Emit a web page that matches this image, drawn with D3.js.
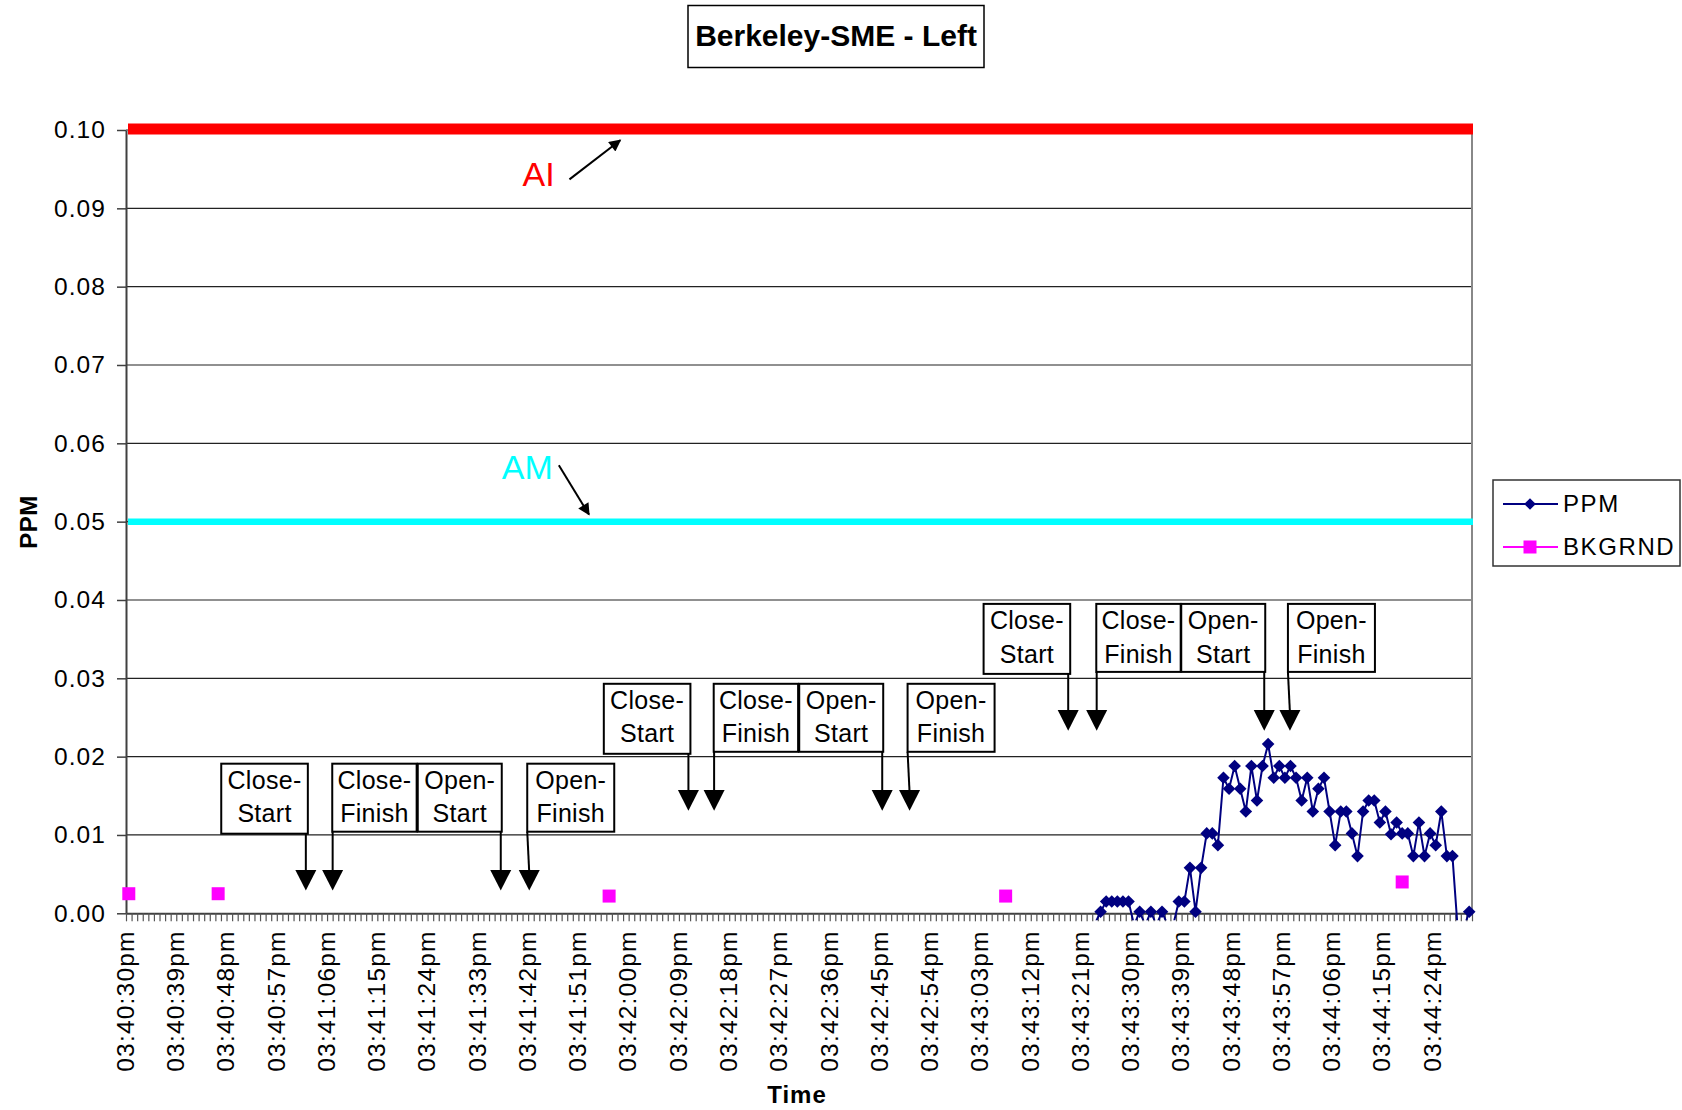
<!DOCTYPE html>
<html><head><meta charset="utf-8">
<script src="https://cdn.jsdelivr.net/npm/d3@7"></script>
<style>
body{margin:0;background:#fff}
svg{display:block}
text{font-family:"Liberation Sans",Arial,sans-serif;fill:#000}
</style>
</head><body>
<svg id="c" width="1682" height="1110"></svg>
<script>
// ---------------- DATA ----------------
const chartTitle = "Berkeley-SME - Left";
const yTitle = "PPM";
const xTitle = "Time";
const nCats = 241;                 // one category per second, 03:40:30pm .. 03:44:30pm
const tickEvery = 9;
const tickLabels = ["03:40:30pm","03:40:39pm","03:40:48pm","03:40:57pm","03:41:06pm","03:41:15pm",
  "03:41:24pm","03:41:33pm","03:41:42pm","03:41:51pm","03:42:00pm","03:42:09pm","03:42:18pm",
  "03:42:27pm","03:42:36pm","03:42:45pm","03:42:54pm","03:43:03pm","03:43:12pm","03:43:21pm",
  "03:43:30pm","03:43:39pm","03:43:48pm","03:43:57pm","03:44:06pm","03:44:15pm","03:44:24pm"];
const yTicks = [0,0.01,0.02,0.03,0.04,0.05,0.06,0.07,0.08,0.09,0.10];

// PPM series: first category index and values (negatives fall below the axis and are clipped)
const ppmFirstIndex = 173;
const ppmValues = [
  -0.0013, 0.0002, 0.0015, 0.0015, 0.0015, 0.0015, 0.0015, -0.0015, 0.0002, -0.0015,
  0.0002, -0.0015, 0.0002, -0.0015, -0.0015, 0.0015, 0.0015, 0.0058, 0.0002, 0.0058,
  0.0102, 0.0102, 0.0087, 0.0173, 0.0159, 0.0188, 0.0159, 0.0130, 0.0188, 0.0144,
  0.0188, 0.0216, 0.0173, 0.0188, 0.0173, 0.0188, 0.0173, 0.0144, 0.0173, 0.0130,
  0.0159, 0.0173, 0.0130, 0.0087, 0.0130, 0.0130, 0.0102, 0.0073, 0.0130, 0.0144,
  0.0144, 0.0116, 0.0130, 0.0101, 0.0116, 0.0102, 0.0102, 0.0073, 0.0116, 0.0073,
  0.0102, 0.0087, 0.0130, 0.0073, 0.0073, -0.0026, -0.0020, 0.0002];

// BKGRND series
const bkgrndIndex  = [0, 16, 86, 157, 228];
const bkgrndValues = [0.0025, 0.0025, 0.0022, 0.0022, 0.0040];

// Reference limits
const refNames  = ["AI", "AM"];
const refValues = [0.10, 0.05];
const refColors = ["#FF0000", "#00FFFF"];

// Event annotations (category index of each arrow, box top / arrow tip in PPM)
const eventLabels = [["Close-","Start"],["Close-","Finish"],["Open-","Start"],["Open-","Finish"]];
const eventTimes = [[31.7, 36.5, 66.6, 71.7],[100.2, 104.8, 134.9, 139.8],[168.2, 173.3, 203.3, 207.9]];
const eventBoxTop   = [0.0191, 0.0293, 0.0395];
const eventArrowTip = [0.0029, 0.0131, 0.0233];

// Limit label annotations (category index, PPM)
const refLabelPos  = [[70.5, 0.0929],[66.8, 0.0555]];
const refArrowFrom = [[78.9, 0.0937],[77.0, 0.0572]];
const refArrowTo   = [[88.0, 0.0987],[82.4, 0.0509]];

// ---------------- CHART ----------------
const W = 1682, H = 1110;
const plot = {left:126, right:1472, top:130, bottom:913.3};
const svg = d3.select("#c");
svg.append("rect").attr("width", W).attr("height", H).attr("fill", "#fff");

const xi = d3.scaleLinear().domain([-0.5, nCats - 0.5]).range([plot.left, plot.right]);
const y = d3.scaleLinear().domain([0, 0.10]).range([plot.bottom, plot.top]);

const defs = svg.append("defs");
defs.append("clipPath").attr("id","clip").append("rect")
  .attr("x", plot.left).attr("y", plot.top - 12)
  .attr("width", plot.right - plot.left + 8).attr("height", plot.bottom - plot.top + 19);
defs.append("marker").attr("id","ah").attr("viewBox","0 0 10 10").attr("refX",9).attr("refY",5)
  .attr("markerWidth",7).attr("markerHeight",6).attr("markerUnits","strokeWidth").attr("orient","auto")
  .append("path").attr("d","M0,0 L10,5 L0,10 Z").attr("fill","#000");

// gridlines
svg.append("g").selectAll("line").data(yTicks.filter(v => v > 0)).join("line")
  .attr("x1", plot.left).attr("x2", plot.right)
  .attr("y1", d => y(d)).attr("y2", d => y(d))
  .attr("stroke", "#222").attr("stroke-width", 1.2);

// right border
svg.append("line").attr("x1", plot.right).attr("x2", plot.right).attr("y1", plot.top).attr("y2", plot.bottom)
  .attr("stroke", "#888").attr("stroke-width", 2);

// reference lines
svg.append("g").selectAll("line").data(refValues).join("line")
  .attr("x1", plot.left + 2).attr("x2", plot.right + 1)
  .attr("y1", (d,i) => y(d) - (i === 0 ? 1 : 0)).attr("y2", (d,i) => y(d) - (i === 0 ? 1 : 0))
  .attr("stroke", (d,i) => refColors[i]).attr("stroke-width", (d,i) => i === 0 ? 11 : 6.5);

// y axis
const yAxis = svg.append("g").attr("transform", `translate(${plot.left},0)`)
  .call(d3.axisLeft(y).tickValues(yTicks).tickFormat(d3.format(".2f")).tickSize(9).tickSizeOuter(0).tickPadding(11));
yAxis.select(".domain").attr("stroke", "#404040").attr("stroke-width", 2);
yAxis.selectAll(".tick line").attr("stroke", "#404040").attr("stroke-width", 1.5);
yAxis.selectAll(".tick text").attr("font-size", 24.5).attr("letter-spacing", "1.1px")
  .attr("font-family", '"Liberation Sans",Arial,sans-serif').attr("fill", "#000");

// x axis (category ticks between categories)
const xAxis = svg.append("g").attr("transform", `translate(0,${plot.bottom})`)
  .call(d3.axisBottom(xi).tickValues(d3.range(-0.5, nCats, 1)).tickSize(8).tickSizeOuter(0).tickFormat(""));
xAxis.select(".domain").attr("stroke", "#404040").attr("stroke-width", 2);
xAxis.selectAll(".tick line").attr("stroke", "#555").attr("stroke-width", 1.2);

// x tick labels
svg.append("g").selectAll("text").data(tickLabels).join("text")
  .attr("transform", (d,i) => `translate(${xi(i * tickEvery) + 5},${plot.bottom + 17}) rotate(-90)`)
  .attr("text-anchor", "end").attr("font-size", 24.5).attr("letter-spacing", "1.2px")
  .text(d => d);

// axis titles
svg.append("text").attr("transform", `translate(36.5,522) rotate(-90)`).attr("text-anchor","middle")
  .attr("font-size", 24).attr("font-weight","bold").attr("letter-spacing","0.5px").text(yTitle);
svg.append("text").attr("x", 797).attr("y", 1103).attr("text-anchor","middle")
  .attr("font-size", 24).attr("font-weight","bold").attr("letter-spacing","1px").text(xTitle);

// PPM series
const ppm = ppmValues.map((v,k) => ({i: ppmFirstIndex + k, v}));
const plotG = svg.append("g").attr("clip-path", "url(#clip)");
plotG.append("path").datum(ppm)
  .attr("d", d3.line().x(d => xi(d.i)).y(d => y(d.v)))
  .attr("fill","none").attr("stroke","#000080").attr("stroke-width",2);
const diamond = "M0,-6.3L6.3,0L0,6.3L-6.3,0Z";
svg.append("g").selectAll("path").data(ppm.filter(d => d.v >= 0)).join("path")
  .attr("transform", d => `translate(${xi(d.i)},${y(d.v)})`).attr("d", diamond).attr("fill","#000080");

// BKGRND series
svg.append("g").selectAll("rect").data(bkgrndIndex).join("rect")
  .attr("x", (d) => xi(d) - 6.5).attr("y", (d,k) => y(bkgrndValues[k]) - 6.5)
  .attr("width", 13).attr("height", 13).attr("fill", "#FF00FF");

// reference labels + arrows
refNames.forEach((n,i) => {
  svg.append("text").attr("x", xi(refLabelPos[i][0])).attr("y", y(refLabelPos[i][1]))
    .attr("font-size", 34).style("fill", refColors[i]).text(n);
  svg.append("line")
    .attr("x1", xi(refArrowFrom[i][0])).attr("y1", y(refArrowFrom[i][1]))
    .attr("x2", xi(refArrowTo[i][0])).attr("y2", y(refArrowTo[i][1]))
    .attr("stroke","#000").attr("stroke-width",2).attr("marker-end","url(#ah)");
});

// event boxes + arrows
const boxW = [86.6, 84.4, 84, 87];
eventTimes.forEach((grp, g) => {
  const top = y(eventBoxTop[g]), tip = y(eventArrowTip[g]);
  grp.forEach((t, e) => {
    const ax = xi(t);
    const h = e === 0 ? 70 : 68;
    let left;
    if (e === 0) left = ax + 2 - boxW[0];
    else if (e === 1) left = ax - 0.4;
    else if (e === 2) left = ax + 1 - boxW[2];
    else left = ax - 2;
    const topX = e === 3 ? left : ax;
    const G = svg.append("g");
    G.append("line").attr("x1", topX).attr("y1", top + h).attr("x2", ax).attr("y2", tip - 18)
      .attr("stroke","#000").attr("stroke-width",2);
    G.append("path").attr("d", `M${ax-10.5},${tip-20.7}L${ax+10.5},${tip-20.7}L${ax},${tip}Z`).attr("fill","#000");
    G.append("rect").attr("x", left).attr("y", top).attr("width", boxW[e]).attr("height", h)
      .attr("fill","#fff").attr("stroke","#000").attr("stroke-width",2);
    const cx = left + boxW[e] / 2;
    G.append("text").attr("x", cx).attr("y", top + 25.5).attr("text-anchor","middle")
      .attr("font-size", 25).attr("letter-spacing","0.3px").text(eventLabels[e][0]);
    G.append("text").attr("x", cx).attr("y", top + 58.7).attr("text-anchor","middle")
      .attr("font-size", 25).attr("letter-spacing","0.3px").text(eventLabels[e][1]);
  });
});

// legend
const lg = svg.append("g");
lg.append("rect").attr("x",1493).attr("y",480).attr("width",187).attr("height",86)
  .attr("fill","#fff").attr("stroke","#333").attr("stroke-width",1.5);
const legendItems = [{name:"PPM", color:"#000080", shape:"d", y:504},{name:"BKGRND", color:"#FF00FF", shape:"s", y:547}];
legendItems.forEach(it => {
  lg.append("line").attr("x1",1503).attr("x2",1558).attr("y1",it.y).attr("y2",it.y)
    .attr("stroke",it.color).attr("stroke-width",2);
  if (it.shape === "d") lg.append("path").attr("transform",`translate(1530,${it.y})`).attr("d","M0,-5.8L5.8,0L0,5.8L-5.8,0Z").attr("fill",it.color);
  else lg.append("rect").attr("x",1523.5).attr("y",it.y-6.5).attr("width",13).attr("height",13).attr("fill",it.color);
  lg.append("text").attr("x",1563).attr("y",it.y+5.5+2.5).attr("font-size",24).attr("letter-spacing","1.6px").text(it.name);
});

// title
svg.append("rect").attr("x",688).attr("y",5.5).attr("width",296).attr("height",62)
  .attr("fill","#fff").attr("stroke","#000").attr("stroke-width",1.5);
svg.append("text").attr("x",836).attr("y",46).attr("text-anchor","middle")
  .attr("font-size",30).attr("font-weight","bold").text(chartTitle);
</script>
</body></html>
